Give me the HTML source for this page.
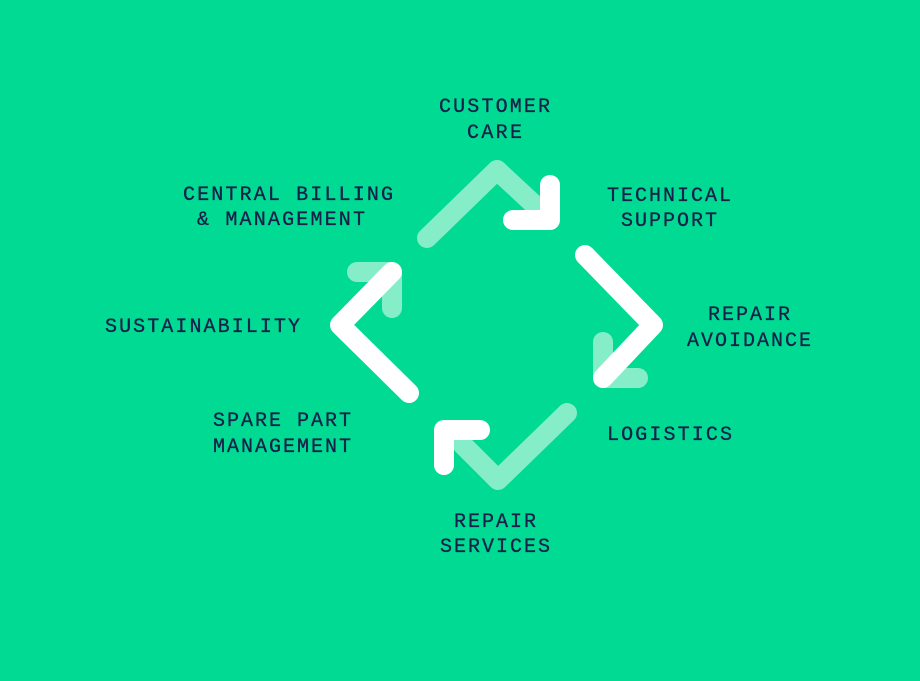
<!DOCTYPE html>
<html><head><meta charset="utf-8"><style>
html,body{margin:0;padding:0;background:#00da92;}
svg{display:block}
text{font-family:"Liberation Mono","DejaVu Sans Mono",monospace;font-size:20px;fill:#16204a;stroke:#16204a;stroke-width:0.3px;}
</style></head><body>
<svg width="920" height="681" viewBox="0 0 920 681" xmlns="http://www.w3.org/2000/svg">
<rect width="920" height="681" fill="#00da92"/>
<g fill="none" stroke-linecap="round" stroke-linejoin="round" stroke-width="20">
<g stroke="#86edc9">
<polyline points="427,238 497,170 540,210"/>
<polyline points="603,342 603,378 638,378"/>
<polyline points="567,413 498,480 463,445"/>
<polyline points="357,272 392,272 392,308"/>
</g>
<g stroke="#ffffff">
<polyline points="550,185 550,220 513,220"/>
<polyline points="585,255 653,325 603,378"/>
<polyline points="444,465 444,430 480,430"/>
<polyline points="409,393 340,325 392,272"/>
</g>
</g>
<text x="439" y="112" textLength="111" lengthAdjust="spacing">CUSTOMER</text>
<text x="467" y="138" textLength="55" lengthAdjust="spacing">CARE</text>
<text x="607" y="201" textLength="124" lengthAdjust="spacing">TECHNICAL</text>
<text x="621" y="226" textLength="96" lengthAdjust="spacing">SUPPORT</text>
<text x="708" y="320" textLength="82" lengthAdjust="spacing">REPAIR</text>
<text x="687" y="346" textLength="124" lengthAdjust="spacing">AVOIDANCE</text>
<text x="607" y="440" textLength="125" lengthAdjust="spacing">LOGISTICS</text>
<text x="454" y="527" textLength="82" lengthAdjust="spacing">REPAIR</text>
<text x="440" y="552" textLength="110" lengthAdjust="spacing">SERVICES</text>
<text x="213" y="426" textLength="138" lengthAdjust="spacing">SPARE PART</text>
<text x="213" y="452" textLength="138" lengthAdjust="spacing">MANAGEMENT</text>
<text x="105" y="332" textLength="195" lengthAdjust="spacing">SUSTAINABILITY</text>
<text x="183" y="200" textLength="210" lengthAdjust="spacing">CENTRAL BILLING</text>
<text x="197" y="225" textLength="168" lengthAdjust="spacing">&amp; MANAGEMENT</text>
</svg>
</body></html>
